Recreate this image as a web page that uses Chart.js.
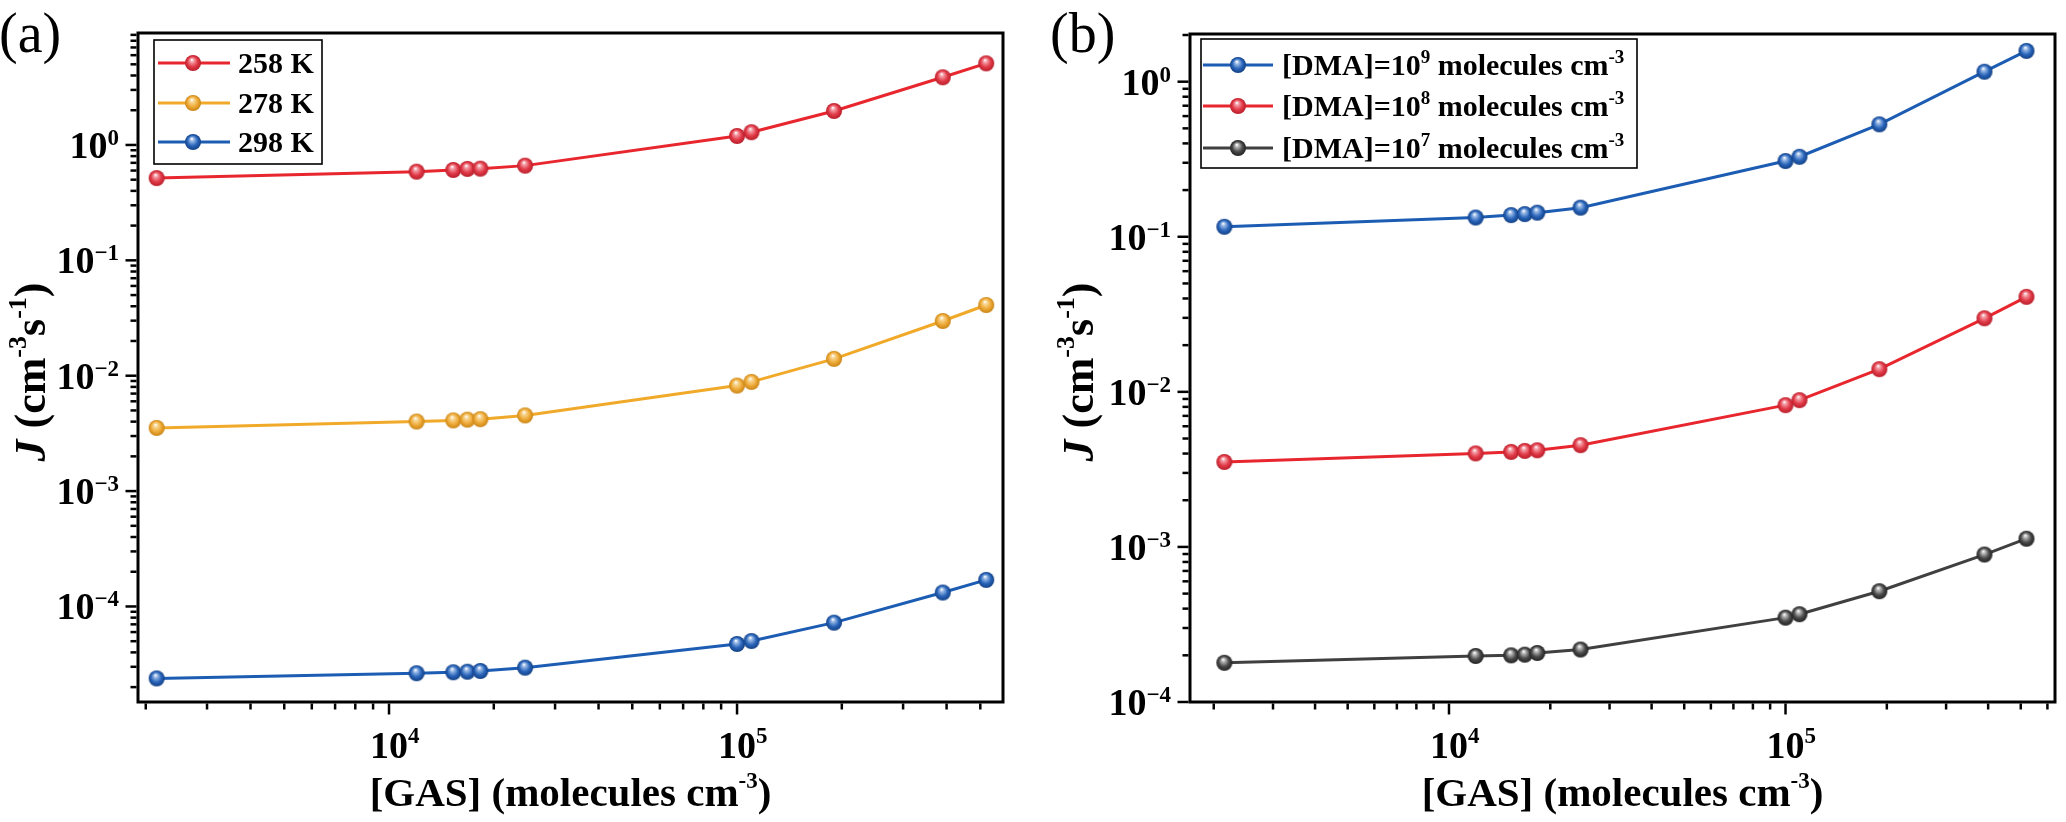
<!DOCTYPE html>
<html><head><meta charset="utf-8">
<script src="https://cdn.jsdelivr.net/npm/chart.js@4.4.1/dist/chart.umd.min.js"></script>
<style>
html,body{margin:0;padding:0;background:#fff;}
#wrap{position:relative;width:2066px;height:822px;overflow:hidden;background:#fff;}
canvas{position:absolute;top:0;}
</style></head><body>
<div id="wrap">
<canvas id="ca" width="1040" height="822" style="left:0;width:1040px;height:822px"></canvas>
<canvas id="cb" width="1026" height="822" style="left:1040px;width:1026px;height:822px"></canvas>
</div>
<script>
// ---------- data ----------
const gasConc = [2150, 12000, 15300, 16800, 18300, 24600, 100000, 110000, 190000, 390000, 520000];
const j258K   = [0.516, 0.587, 0.607, 0.620, 0.623, 0.662, 1.197, 1.29, 1.97, 3.86, 5.1];
const j278K   = [0.00353, 0.00401, 0.00410, 0.00416, 0.00420, 0.00453, 0.00821, 0.00884, 0.0140, 0.0298, 0.0410];
const j298K   = [2.38e-5, 2.64e-5, 2.69e-5, 2.72e-5, 2.76e-5, 2.95e-5, 4.73e-5, 5.02e-5, 7.24e-5, 1.32e-4, 1.70e-4];
const jDMA1e9 = [0.116, 0.133, 0.138, 0.140, 0.143, 0.154, 0.308, 0.328, 0.531, 1.16, 1.58];
const jDMA1e8 = [0.00353, 0.00401, 0.00410, 0.00416, 0.00420, 0.00453, 0.00821, 0.00884, 0.0140, 0.0298, 0.0410];
const jDMA1e7 = [1.79e-4, 1.98e-4, 2.00e-4, 2.02e-4, 2.07e-4, 2.18e-4, 3.50e-4, 3.68e-4, 5.18e-4, 8.93e-4, 1.13e-3];

const seriesNamesA = ['258 K', '278 K', '298 K'];
const seriesExpB = ['9', '8', '7'];           // [DMA]=10^n molecules cm^-3
const xTickExps = [4, 5];                      // x tick labels 10^4, 10^5
const yTickExpsA = [0, -1, -2, -3, -4];
const yTickExpsB = [0, -1, -2, -3, -4];
const xRangeA = [1900, 581000];
const xRangeB = [1700, 632000];
const yRangeA = [1.486e-5, 9.34];
const yRangeB = [1.0e-4, 2.03];

// ---------- styling helpers ----------
const SERIF = '"Liberation Serif","Times New Roman",serif';
function fnt(size, bold, italic){ return (italic?'italic ':'') + (bold===false?'':'bold ') + size + 'px ' + SERIF; }
function partsWidth(ctx, parts){ let w=0; for(const p of parts){ ctx.font=fnt(p.size,p.bold,p.italic); w+=ctx.measureText(p.t).width; } return w; }
function drawParts(ctx, parts, x, y, align){
  const w = partsWidth(ctx, parts);
  let cx = align==='right' ? x-w : (align==='center' ? x-w/2 : x);
  ctx.textAlign='left'; ctx.textBaseline='alphabetic'; ctx.fillStyle='#000';
  for(const p of parts){ ctx.font=fnt(p.size,p.bold,p.italic); ctx.fillText(p.t, cx, y-(p.rise||0)); cx+=ctx.measureText(p.t).width; }
}
function supStr(e){ return e<0 ? '\u2212'+(-e) : String(e); }

function makeBall(color, light, dark, r){
  const s = Math.ceil(2*r+2);
  const c = document.createElement('canvas'); c.width=s; c.height=s;
  const g = c.getContext('2d'); const cx=s/2, cy=s/2;
  const grad = g.createRadialGradient(cx-0.15*r, cy-0.42*r, 0.3, cx, cy, r);
  grad.addColorStop(0,'#ffffff'); grad.addColorStop(0.2, light); grad.addColorStop(0.62, color); grad.addColorStop(1, dark);
  g.fillStyle=grad; g.beginPath(); g.arc(cx,cy,r,0,Math.PI*2); g.fill();
  return c;
}
const COL = {
  red:   {line:'#e8262e', ball: makeBall('#e23a48','#f3a0a8','#b81e2a',8)},
  yel:   {line:'#f1a92a', ball: makeBall('#efab38','#f8d898','#c98414',8)},
  blue:  {line:'#1c5db3', ball: makeBall('#2a66bb','#9cbbe6','#123f84',8)},
  gray:  {line:'#404040', ball: makeBall('#4a4a4a','#b8b8b8','#222222',8)}
};

function logTicks(min, max){
  const out=[];
  for(let d=Math.floor(Math.log10(min)); d<=Math.ceil(Math.log10(max)); d++){
    for(let k=1;k<=9;k++){ const v=k*Math.pow(10,d); if(v>=min*0.9999 && v<=max*1.0001) out.push({v, major:k===1, e:d}); }
  }
  return out;
}

const CFG = {};
const decor = {
  id:'decor',
  afterDatasetsDraw(chart){
    const cfg = CFG[chart.canvas.id]; const ctx = chart.ctx; const a = chart.chartArea;
    const xs = chart.scales.x, ys = chart.scales.y;
    ctx.save();
    // frame
    ctx.strokeStyle='#000'; ctx.lineWidth=3;
    ctx.strokeRect(a.left, a.top, a.right-a.left, a.bottom-a.top);
    ctx.lineWidth=2.5; ctx.lineCap='butt';
    // y ticks
    for(const t of logTicks(cfg.yRange[0], cfg.yRange[1])){
      const py = ys.getPixelForValue(t.v); const len = t.major?11:6;
      ctx.beginPath(); ctx.moveTo(a.left-1.5, py); ctx.lineTo(a.left-1.5-len, py); ctx.stroke();
    }
    for(const e of cfg.yExps){
      const py = ys.getPixelForValue(Math.pow(10,e));
      drawParts(ctx, [{t:'10',size:38},{t:supStr(e),size:23,rise:13}], a.left-19, py+13, 'right');
    }
    // x ticks
    for(const t of logTicks(cfg.xRange[0], cfg.xRange[1])){
      const px = xs.getPixelForValue(t.v); const len = t.major?11:6;
      ctx.beginPath(); ctx.moveTo(px, a.bottom+1.5); ctx.lineTo(px, a.bottom+1.5+len); ctx.stroke();
    }
    for(const e of cfg.xExps){
      const px = xs.getPixelForValue(Math.pow(10,e));
      ctx.font=fnt(38); const w10 = ctx.measureText('10').width;
      drawParts(ctx, [{t:'10',size:38},{t:supStr(e),size:23,rise:15}], px-w10/2, a.bottom+56, 'left');
    }
    // x title
    drawParts(ctx, [{t:'[GAS] (molecules cm',size:41},{t:'-3',size:23,rise:18},{t:')',size:41}], (a.left+a.right)/2, a.bottom+104, 'center');
    // y title
    ctx.save(); ctx.translate(cfg.yTitleX, cfg.yTitleY); ctx.rotate(-Math.PI/2);
    drawParts(ctx, [{t:'J',size:44,italic:true},{t:' (cm',size:44},{t:'-3',size:26,rise:19},{t:'s',size:44},{t:'-1',size:26,rise:19},{t:')',size:44}], 0, 15, 'center');
    ctx.restore();
    // panel label
    ctx.fillStyle='#000'; ctx.font = fnt(56,false); ctx.textAlign='left'; ctx.textBaseline='alphabetic';
    ctx.fillText(cfg.panel, cfg.panelX, 52);
    // legend
    const L = cfg.legend;
    ctx.fillStyle='#fff'; ctx.fillRect(L.box[0], L.box[1], L.box[2]-L.box[0], L.box[3]-L.box[1]);
    ctx.strokeStyle='#000'; ctx.lineWidth=1.6; ctx.strokeRect(L.box[0], L.box[1], L.box[2]-L.box[0], L.box[3]-L.box[1]);
    L.items.forEach((it, i) => {
      const ds = chart.data.datasets[i]; const y = L.rows[i];
      ctx.strokeStyle = ds.borderColor; ctx.lineWidth = 3;
      ctx.beginPath(); ctx.moveTo(L.lineX[0], y); ctx.lineTo(L.lineX[1], y); ctx.stroke();
      const b = ds.pointStyle; ctx.drawImage(b, L.ballX - b.width/2, y - b.height/2);
      drawParts(ctx, it, L.textX, y+10, 'left');
    });
    ctx.restore();
  }
};

function makeChart(id, cfg, series){
  CFG[id] = cfg;
  return new Chart(document.getElementById(id), {
    type:'line',
    data:{ datasets: series.map(s => ({
      label: s.label,
      data: gasConc.map((x,i) => ({x, y: s.values[i]})),
      borderColor: s.col.line, backgroundColor: s.col.line, borderWidth: 3,
      pointStyle: s.col.ball, pointRadius: 8, pointHoverRadius: 8,
      tension: 0, clip: false
    })) },
    options:{
      responsive:false, animation:false, events:[],
      layout:{ padding:{ top: cfg.top, right: cfg.padRight, left:0, bottom:0 } },
      plugins:{ legend:{display:false}, tooltip:{enabled:false} },
      scales:{
        x:{ type:'logarithmic', min:cfg.xRange[0], max:cfg.xRange[1], grid:{display:false}, border:{display:false}, ticks:{display:false}, afterFit:s=>{ s.height = cfg.xAxisH; } },
        y:{ type:'logarithmic', min:cfg.yRange[0], max:cfg.yRange[1], grid:{display:false}, border:{display:false}, ticks:{display:false}, afterFit:s=>{ s.width = cfg.yAxisW; } }
      }
    },
    plugins:[decor]
  });
}

const legendPart = t => [{t, size:30}];
makeChart('ca', {
  top:33, padRight:37, yAxisW:138, xAxisH:120,
  xRange:xRangeA, yRange:yRangeA, xExps:xTickExps, yExps:yTickExpsA,
  yTitleX:30, yTitleY:372, panel:'(a)', panelX:-1,
  legend:{ box:[154,40,322,164], rows:[63,103,142], lineX:[158,230], ballX:193, textX:238,
           items: seriesNamesA.map(legendPart) }
}, [
  {label:seriesNamesA[0], values:j258K, col:COL.red},
  {label:seriesNamesA[1], values:j278K, col:COL.yel},
  {label:seriesNamesA[2], values:j298K, col:COL.blue}
]);

const dmaParts = n => [{t:'[DMA]=10',size:30},{t:n,size:19,rise:12},{t:' molecules cm',size:30},{t:'-3',size:19,rise:12}];
makeChart('cb', {
  top:34, padRight:10, yAxisW:150, xAxisH:120,
  xRange:xRangeB, yRange:yRangeB, xExps:xTickExps, yExps:yTickExpsB,
  yTitleX:38, yTitleY:372, panel:'(b)', panelX:10,
  legend:{ box:[161,39,597,168], rows:[65,106,148], lineX:[163,233], ballX:198, textX:242,
           items: seriesExpB.map(dmaParts) }
}, [
  {label:'[DMA]=10^9 molecules cm^-3', values:jDMA1e9, col:COL.blue},
  {label:'[DMA]=10^8 molecules cm^-3', values:jDMA1e8, col:COL.red},
  {label:'[DMA]=10^7 molecules cm^-3', values:jDMA1e7, col:COL.gray}
]);
</script>
</body></html>
